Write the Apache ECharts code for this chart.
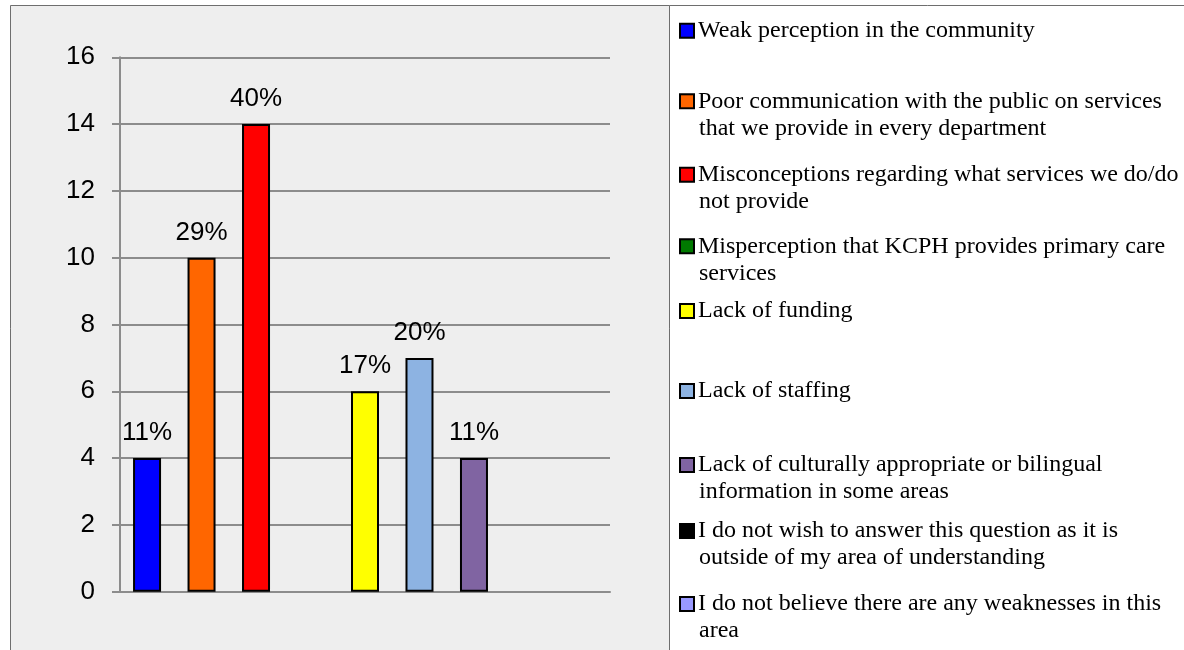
<!DOCTYPE html>
<html>
<head>
<meta charset="utf-8">
<script src="https://cdn.jsdelivr.net/npm/echarts@6/dist/echarts.min.js"></script>
<style>
  html, body { margin: 0; padding: 0; background: #ffffff; }
  #chart { width: 1184px; height: 650px; }
</style>
</head>
<body>
<div id="chart"></div>
<script>
// Survey answers: perceived weaknesses (counts per answer, share of responses on top)
const categories = [''];
const seriesNames = [
  'Weak perception in the community',
  'Poor communication with the public on services that we provide in every department',
  'Misconceptions regarding what services we do/do not provide',
  'Misperception that KCPH provides primary care services',
  'Lack of funding',
  'Lack of staffing',
  'Lack of culturally appropriate or bilingual information in some areas',
  'I do not wish to answer this question as it is outside of my area of understanding',
  'I do not believe there are any weaknesses in this area'
];
const legendLines = [
  ['Weak perception in the community'],
  ['Poor communication with the public on services', 'that we provide in every department'],
  ['Misconceptions regarding what services we do/do', 'not provide'],
  ['Misperception that KCPH provides primary care', 'services'],
  ['Lack of funding'],
  ['Lack of staffing'],
  ['Lack of culturally appropriate or bilingual', 'information in some areas'],
  ['I do not wish to answer this question as it is', 'outside of my area of understanding'],
  ['I do not believe there are any weaknesses in this', 'area']
];
const seriesValues = [4, 10, 14, 0, 6, 7, 4, 0, 0];
const percentLabels = ['11%', '29%', '40%', '', '17%', '20%', '11%', '', ''];
const seriesColors = ['#0000ff', '#ff6600', '#ff0000', '#007a00', '#ffff00', '#8db3e2', '#8064a2', '#000000', '#9999ff'];
const yMin = 0, yMax = 16, yStep = 2;

// layout: vertical centre of each legend entry's first line
const legendCentres = [29.7, 100.3, 173.7, 245.3, 310, 390, 464, 530, 603];
const LINE_H = 27;
const LEGEND_SHIFT = 2.5;

const chart = echarts.init(document.getElementById('chart'), null, { renderer: 'canvas' });

const gridColor = '#8c8c8c';
const sansFont = '"Liberation Sans", Arial, sans-serif';
const serifFont = '"Liberation Serif", "Times New Roman", serif';

const rich = {
  t: { fontFamily: serifFont, fontSize: 24, lineHeight: LINE_H, color: '#000', padding: [0, 0, 0, 5] },
  u: { fontFamily: serifFont, fontSize: 24, lineHeight: LINE_H, color: '#000', padding: [0, 0, 0, 18] }
};
seriesColors.forEach((c, i) => {
  rich['m' + i] = {
    width: 12, height: 12, backgroundColor: c,
    borderColor: '#000', borderWidth: 2, verticalAlign: 'middle'
  };
});

const legends = seriesNames.map((name, i) => ({
  data: [name],
  orient: 'vertical',
  left: 676,
  top: legendCentres[i] - LINE_H / 2 + LEGEND_SHIFT,
  padding: 0,
  itemWidth: 0,
  itemHeight: 0,
  itemGap: 5,
  selectedMode: false,
  itemStyle: { borderWidth: 0, color: 'rgba(0,0,0,0)' },
  textStyle: { rich: rich },
  formatter: n => {
    const k = seriesNames.indexOf(n);
    return legendLines[k].map((l, j) => j === 0 ? `{m${k}|}{t|${l}}` : `{u|${l}}`).join('\n');
  }
}));

const series = seriesNames.map((name, i) => ({
  name: name,
  type: 'bar',
  data: [seriesValues[i]],
  barWidth: 28,
  barGap: '94.6%',
  itemStyle: {
    color: seriesColors[i],
    borderColor: '#000',
    borderWidth: seriesValues[i] > 0 ? 2 : 0
  },
  label: {
    show: true,
    position: 'top',
    distance: 12,
    fontFamily: sansFont,
    fontSize: 26,
    color: '#000',
    formatter: () => percentLabels[i]
  }
}));

chart.setOption({
  animation: false,
  backgroundColor: '#ffffff',
  graphic: [
    {
      type: 'rect', z: -10, silent: true,
      shape: { x: 10.5, y: 5.5, width: 659, height: 700 },
      style: { fill: '#eeeeee', stroke: '#6e6e6e', lineWidth: 1 }
    },
    {
      type: 'rect', z: -10, silent: true,
      shape: { x: 669.5, y: 5.5, width: 600, height: 700 },
      style: { fill: '#ffffff', stroke: '#6e6e6e', lineWidth: 1 }
    }
  ],
  legend: legends,
  grid: { left: 120, right: 574, top: 57.3, bottom: 58.3, containLabel: false },
  xAxis: {
    type: 'category',
    data: categories,
    axisLine: { show: true, lineStyle: { color: gridColor, width: 2 } },
    axisTick: { show: false },
    axisLabel: { show: false },
    splitLine: { show: false }
  },
  yAxis: {
    type: 'value',
    min: yMin, max: yMax, interval: yStep,
    axisLine: { show: true, lineStyle: { color: gridColor, width: 2 } },
    axisTick: { show: true, length: 8, lineStyle: { color: gridColor, width: 2 } },
    axisLabel: { margin: 25, fontFamily: sansFont, fontSize: 26, color: '#000' },
    splitLine: { show: true, lineStyle: { color: gridColor, width: 2 } }
  },
  series: series
});
</script>
</body>
</html>
